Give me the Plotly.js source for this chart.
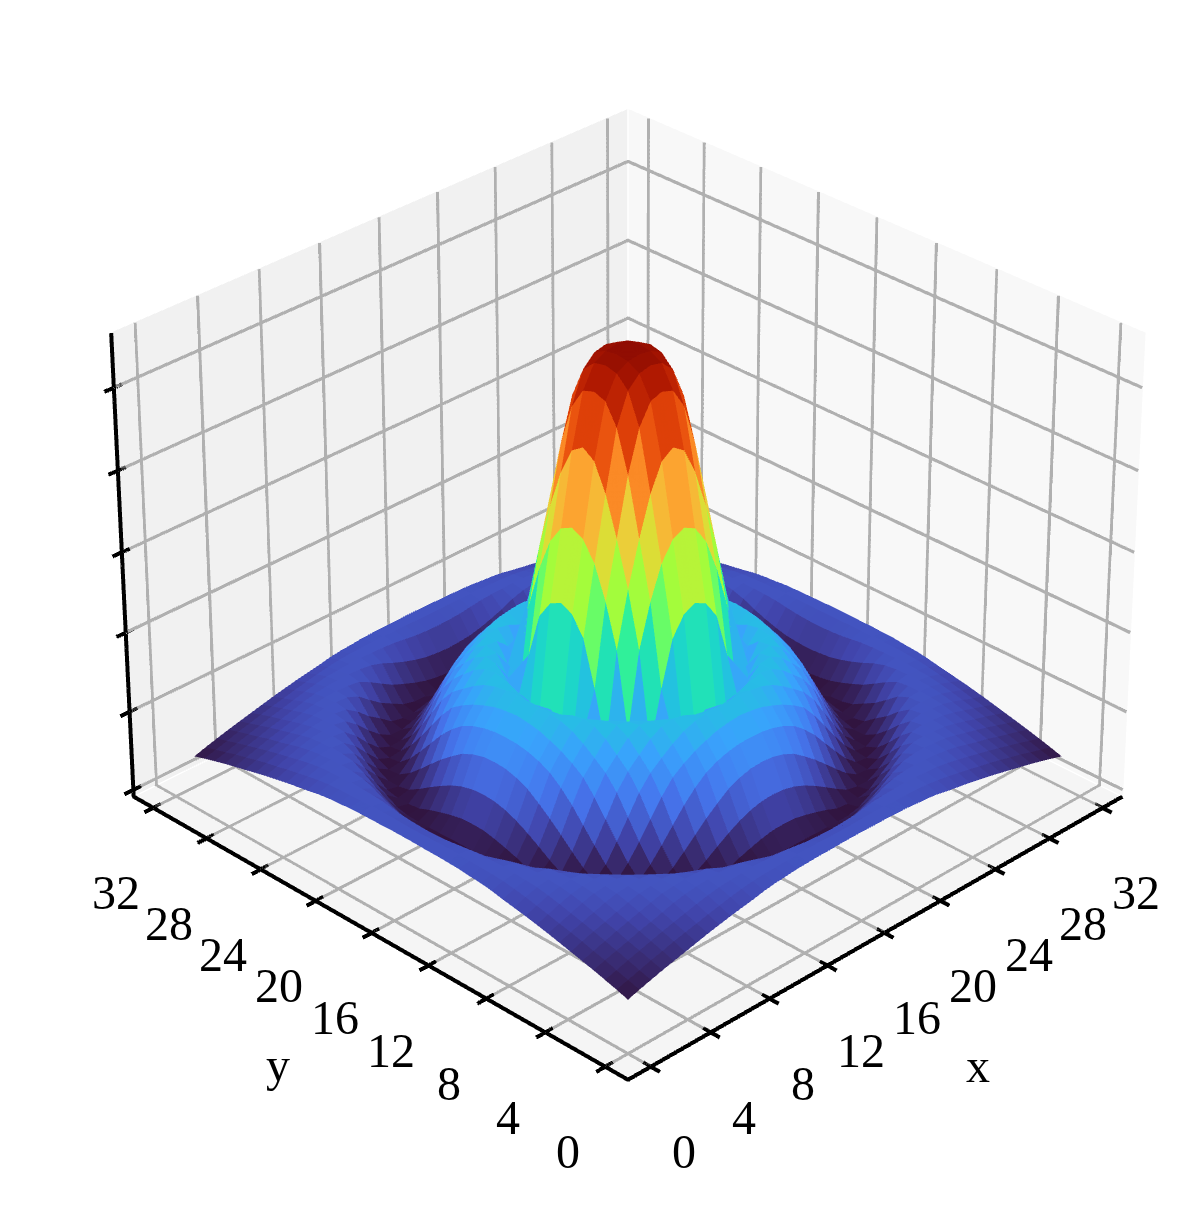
<!DOCTYPE html>
<html>
<head>
<meta charset="utf-8">
<script src="https://cdn.plot.ly/plotly-3.0.1.min.js"></script>
<style>html,body{margin:0;padding:0;background:#fff;overflow:hidden}</style>
</head>
<body>
<div style="position:relative;width:1198px;height:1206px;overflow:hidden">
<div id="chart" style="position:absolute;left:-1857px;top:-1915px;width:4970px;height:4970px"></div>
</div>
<script>
// grid coordinates of the surface
const xCoords = [.25,1.0125,1.775,2.5375,3.3,4.0625,4.825,5.5875,6.35,7.1125,7.875,8.6375,9.4,10.1625,10.925,11.6875,12.45,13.2125,13.975,14.7375,15.5,16.2625,17.025,17.7875,18.55,19.3125,20.075,20.8375,21.6,22.3625,23.125,23.8875,24.65,25.4125,26.175,26.9375,27.7,28.4625,29.225,29.9875,30.75];
const yCoords = [.25,1.0125,1.775,2.5375,3.3,4.0625,4.825,5.5875,6.35,7.1125,7.875,8.6375,9.4,10.1625,10.925,11.6875,12.45,13.2125,13.975,14.7375,15.5,16.2625,17.025,17.7875,18.55,19.3125,20.075,20.8375,21.6,22.3625,23.125,23.8875,24.65,25.4125,26.175,26.9375,27.7,28.4625,29.225,29.9875,30.75];

// heights. It is symmetric about the centre, so one quarter
// is kept: row and column count grid steps away from the peak
const zQuarter = [
[1.11,1.108,1.095,1.045,.925,.745,.575,.325,.34,.375,.353,.313,.266,.199,.14,.103,.105,.141,.185,.199,.198],
[1.108,1.104,1.088,1.035,.905,.73,.56,.31,.343,.375,.35,.312,.264,.197,.139,.103,.105,.143,.186,.199,.198],
[1.095,1.088,1.06,.985,.84,.685,.515,.28,.355,.372,.345,.307,.256,.19,.133,.102,.108,.146,.188,.2,.197],
[1.045,1.035,.985,.885,.745,.605,.405,.31,.368,.368,.335,.298,.243,.178,.125,.102,.113,.153,.192,.2,.197],
[.925,.905,.84,.745,.635,.50,.277,.343,.374,.358,.323,.284,.222,.162,.116,.101,.122,.162,.196,.2,.196],
[.745,.73,.685,.605,.50,.31,.325,.369,.369,.341,.307,.261,.199,.144,.105,.102,.133,.173,.198,.199,.195],
[.575,.56,.515,.405,.277,.325,.367,.372,.353,.32,.287,.232,.173,.125,.102,.109,.145,.186,.199,.198,.192],
[.325,.31,.28,.31,.343,.369,.372,.356,.328,.298,.253,.197,.146,.108,.102,.125,.162,.195,.2,.197,.19],
[.34,.343,.355,.368,.374,.369,.353,.328,.302,.264,.212,.162,.121,.102,.108,.141,.18,.199,.199,.195,.186],
[.375,.375,.372,.368,.358,.341,.32,.298,.264,.217,.171,.129,.103,.102,.13,.163,.195,.2,.197,.191,.18],
[.353,.35,.345,.335,.323,.307,.287,.253,.212,.171,.133,.105,.101,.118,.15,.186,.199,.199,.195,.186,.175],
[.313,.312,.307,.298,.284,.261,.232,.197,.162,.129,.105,.101,.113,.143,.176,.198,.2,.197,.19,.18,.17],
[.266,.264,.256,.243,.222,.199,.173,.146,.121,.103,.101,.113,.14,.172,.196,.2,.198,.193,.184,.174,.164],
[.199,.197,.19,.178,.162,.144,.125,.108,.102,.102,.118,.143,.172,.195,.2,.198,.195,.187,.177,.167,.158],
[.14,.139,.133,.125,.116,.105,.102,.102,.108,.13,.15,.176,.196,.2,.198,.195,.188,.179,.17,.161,.151],
[.103,.103,.102,.102,.101,.102,.109,.125,.141,.163,.186,.198,.2,.198,.195,.188,.18,.171,.163,.154,.144],
[.105,.105,.108,.113,.122,.133,.145,.162,.18,.195,.199,.2,.198,.195,.188,.18,.172,.164,.155,.146,.137],
[.141,.143,.146,.153,.162,.173,.186,.195,.199,.2,.199,.197,.193,.187,.179,.171,.164,.155,.147,.139,.13],
[.185,.186,.188,.192,.196,.198,.199,.2,.199,.197,.195,.19,.184,.177,.17,.163,.155,.147,.139,.13,.122],
[.199,.199,.2,.2,.2,.199,.198,.197,.195,.191,.186,.18,.174,.167,.161,.154,.146,.139,.13,.122,.114],
[.198,.198,.197,.197,.196,.195,.192,.19,.186,.18,.175,.17,.164,.158,.151,.144,.137,.13,.122,.114,.105]
];

const xyTicks = [0,4,8,12,16,20,24,28,32];
const xyTickLabels = ['0','4','8','12','16','20','24','28','32'];
const zTicks = [0,0.2,0.4,0.6,0.8,1.0];

// turbo colours
const turbo = [
    [0,'#30123b'],[0.071,'#4145ab'],[0.143,'#4675ed'],[0.214,'#39a2fc'],[0.286,'#1bcfd4'],
    [0.357,'#24eca6'],[0.429,'#61fc6c'],[0.5,'#a4fc3b'],[0.571,'#d1e834'],[0.643,'#f3c63a'],
    [0.714,'#fe9b2d'],[0.786,'#f36315'],[0.857,'#d93806'],[0.929,'#b11901'],[1,'#7a0402']
];

const labelFont = {family: 'Liberation Serif', size: 48, color: '#000'};
const low = -1.5, high = 33.5;
const zLow = -0.018, zHigh = 1.13;
const flatLight = {ambient: 1, diffuse: 0, specular: 0, roughness: 1, fresnel: 0};

// Build one flat coloured quad per grid cell
const vx = [], vy = [], vz = [];
yCoords.forEach((y, r) => xCoords.forEach((x, c) => {
    vx.push(x);
    vy.push(y);
    vz.push(zQuarter[Math.abs(r - 20)][Math.abs(c - 20)]);
}));

const fi = [], fj = [], fk = [], cellColor = [];
const n = xCoords.length;
for (let r = 0; r < yCoords.length - 1; r++) {
    for (let c = 0; c < n - 1; c++) {
        const a = r * n + c, b = a + 1, d = a + n, e = d + 1;
        const mean = (vz[a] + vz[b] + vz[d] + vz[e]) / 4;
        fi.push(a, b);
        fj.push(b, e);
        fk.push(d, d);
        cellColor.push(mean, mean);
    }
}

const surface = {
    type: 'mesh3d',
    x: vx, y: vy, z: vz,
    i: fi, j: fj, k: fk,
    intensity: cellColor,
    intensitymode: 'cell',
    colorscale: turbo,
    cmin: 0.1,
    cmax: 1.14,
    showscale: false,
    flatshading: true,
    lighting: flatLight,
    hoverinfo: 'skip'
};

// The gl axes only draw one pixel wide lines, so the box is made of traces instead
function wall(x, y, z, color) {
    return {
        type: 'mesh3d', x: x, y: y, z: z,
        i: [0, 0], j: [1, 2], k: [2, 3],
        color: color,
        flatshading: true,
        lighting: flatLight,
        hoverinfo: 'skip'
    };
}

const back = 0.05;
const rightWall = wall([high + back, high + back, high + back, high + back], [low, high, high, low], [zLow, zLow, zHigh, zHigh], '#f8f8f8');
const leftWall = wall([low, high, high, low], [high + back, high + back, high + back, high + back], [zLow, zLow, zHigh, zHigh], '#f1f1f1');
const floorWall = wall([low, high, high, low], [low, low, high, high], [zLow - 0.002, zLow - 0.002, zLow - 0.002, zLow - 0.002], '#f5f5f5');

const grid = {x: [], y: [], z: []};
const frame = {x: [], y: [], z: []};

function addPath(target, pts) {
    pts.forEach(p => {
        target.x.push(p[0]);
        target.y.push(p[1]);
        target.z.push(p[2]);
    });
    target.x.push(null);
    target.y.push(null);
    target.z.push(null);
}

xyTicks.forEach(t => {
    addPath(grid, [[t, low, zLow], [t, high, zLow], [t, high, zHigh]]);
    addPath(grid, [[low, t, zLow], [high, t, zLow], [high, t, zHigh]]);
    addPath(frame, [[t, low - 0.6, zLow], [t, low + 0.5, zLow]]);
    addPath(frame, [[low - 0.6, t, zLow], [low + 0.5, t, zLow]]);
});
zTicks.forEach(z => {
    addPath(grid, [[low, high, z], [high, high, z], [high, low, z]]);
    addPath(frame, [[low - 0.6, high, z], [low + 0.5, high, z]]);
});
addPath(frame, [[high, low, zLow], [low, low, zLow], [low, high, zLow], [low, high, zHigh]]);

function lineTrace(path, color, width) {
    return {
        type: 'scatter3d', mode: 'lines',
        x: path.x, y: path.y, z: path.z,
        connectgaps: false,
        line: {color: color, width: width},
        hoverinfo: 'skip'
    };
}

// Tick labels stay level in the reference, so they are annotations pinned to the axis edges
function edgeLabel(x, y, text, xshift, yshift) {
    return {
        x: x, y: y, z: 0,
        text: text,
        showarrow: false,
        xanchor: 'center',
        yanchor: 'middle',
        xshift: xshift,
        yshift: yshift,
        font: labelFont
    };
}

const annotations = [];
xyTicks.forEach((t, i) => {
    annotations.push(edgeLabel(t, low, xyTickLabels[i], 33, -92));
    annotations.push(edgeLabel(low, t, xyTickLabels[i], -37, -92));
});
annotations.push(edgeLabel(16, low, 'x', 94, -140));
annotations.push(edgeLabel(low, 16, 'y', -94, -139));

const hiddenAxis = range => ({visible: false, range: range, autorange: false, showspikes: false});

const layout = {
    width: 4970,
    height: 4970,
    margin: {l: 0, r: 0, t: 0, b: 0},
    paper_bgcolor: '#fff',
    showlegend: false,
    hovermode: false,
    scene: {
        domain: {x: [0, 1], y: [0, 1]},
        aspectmode: 'manual',
        aspectratio: {x: 1.1143, y: 1.1143, z: 0.816},
        camera: {
            eye: {x: -5.144, y: -5.144, z: 4.19},
            center: {x: 0, y: 0, z: 0},
            up: {x: 0, y: 0, z: 1}
        },
        xaxis: hiddenAxis([-3.5, 35.5]),
        yaxis: hiddenAxis([-3.5, 35.5]),
        zaxis: hiddenAxis([-0.07, 1.182]),
        annotations: annotations
    }
};

Plotly.newPlot('chart', [
    rightWall, leftWall, floorWall,
    lineTrace(grid, '#b0b0b0', 6.5),
    lineTrace(frame, '#000', 8),
    surface
], layout, {displayModeBar: false, plotGlPixelRatio: 1});
</script>
</body>
</html>
